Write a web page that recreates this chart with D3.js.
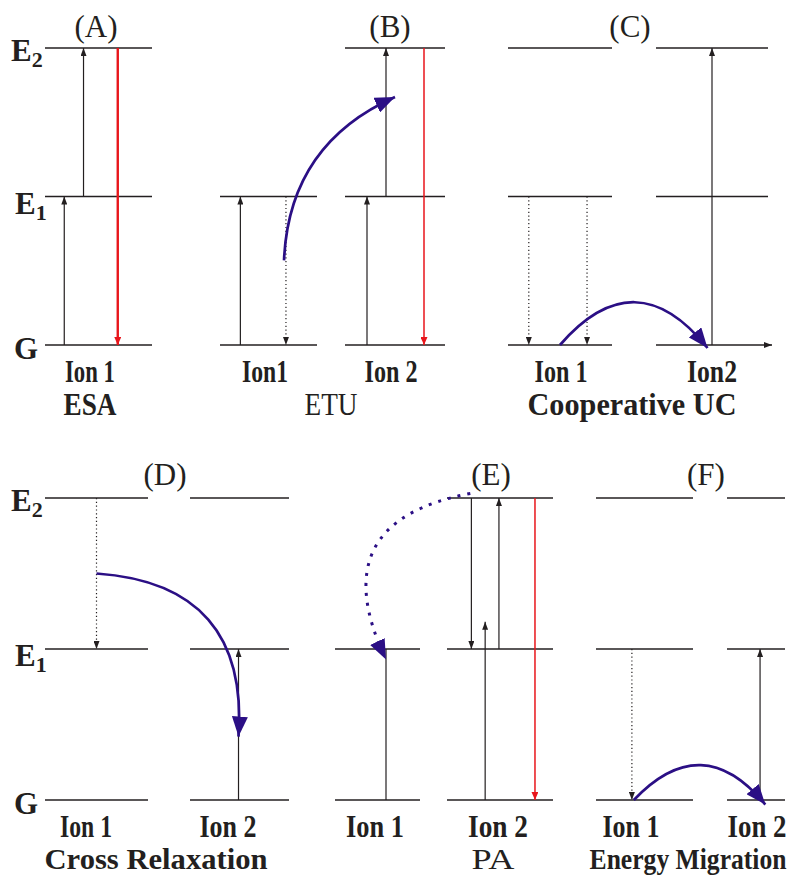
<!DOCTYPE html>
<html>
<head>
<meta charset="utf-8">
<script src="https://cdn.jsdelivr.net/npm/d3@7"></script>
<style>
body { margin: 0; background: #fff; }
text { font-family: "Liberation Serif", "Times New Roman", serif; fill: #231f20; }
</style>
</head>
<body>
<script>
// ---------- data ----------
// panels and the process each one shows
const panelIds = ["A", "B", "C", "D", "E", "F"];
const processNames = ["ESA", "ETU", "Cooperative UC", "Cross Relaxation", "PA", "Energy Migration"];
const processBold = [true, false, true, true, false, true];

// energy levels: 0 = G, 1 = E1, 2 = E2
const levelNames = [["G", ""], ["E", "1"], ["E", "2"]];

// ions of each panel with the levels that are drawn for them
const ions = [
    { panel: "A", name: "Ion 1", levels: [0, 1, 2] },
    { panel: "B", name: "Ion1",  levels: [0, 1] },
    { panel: "B", name: "Ion 2", levels: [0, 1, 2] },
    { panel: "C", name: "Ion 1", levels: [0, 1, 2] },
    { panel: "C", name: "Ion2",  levels: [0, 1, 2] },
    { panel: "D", name: "Ion 1", levels: [0, 1, 2] },
    { panel: "D", name: "Ion 2", levels: [0, 1, 2] },
    { panel: "E", name: "Ion 1", levels: [0, 1] },
    { panel: "E", name: "Ion 2", levels: [0, 1, 2] },
    { panel: "F", name: "Ion 1", levels: [0, 1, 2] },
    { panel: "F", name: "Ion 2", levels: [0, 1, 2] }
];

// vertical transitions inside one ion (ion = index in ions, at = place along the level 0..1)
// kind: solid = absorption / decay, dotted = non radiative, emit = emission, plain = no head
const transitions = [
    { ion: 0, at: 0.18, from: 0, to: 1, kind: "solid" },
    { ion: 0, at: 0.36, from: 1, to: 2, kind: "solid" },
    { ion: 0, at: 0.68, from: 2, to: 0, kind: "emitBold" },
    { ion: 1, at: 0.21, from: 0, to: 1, kind: "solid" },
    { ion: 1, at: 0.68, from: 1, to: 0, kind: "dotted" },
    { ion: 2, at: 0.22, from: 0, to: 1, kind: "solid" },
    { ion: 2, at: 0.41, from: 1, to: 2, kind: "solid" },
    { ion: 2, at: 0.79, from: 2, to: 0, kind: "emit" },
    { ion: 3, at: 0.20, from: 1, to: 0, kind: "dotted" },
    { ion: 3, at: 0.76, from: 1, to: 0, kind: "dotted" },
    { ion: 4, at: 0.50, from: 0, to: 2, kind: "solid" },
    { ion: 5, at: 0.50, from: 2, to: 1, kind: "dotted" },
    { ion: 6, at: 0.49, from: 0, to: 1, kind: "solid" },
    { ion: 7, at: 0.60, from: 0, to: 1, kind: "plain" },
    { ion: 8, at: 0.23, from: 2, to: 1, kind: "solid" },
    { ion: 8, at: 0.49, from: 1, to: 2, kind: "solid" },
    { ion: 8, at: 0.36, from: 0, to: 1.18, kind: "solid" },
    { ion: 8, at: 0.83, from: 2, to: 0, kind: "emit" },
    { ion: 9, at: 0.37, from: 1, to: 0, kind: "dotted" },
    { ion: 10, at: 0.57, from: 0, to: 1, kind: "solid" }
];

// energy transfer between ions (curved blue arrows)
const transfers = [
    { from: { ion: 1, at: 0.66, level: 0.57 }, to: { ion: 2, at: 0.50, level: 1.67 }, bend: 0.31, dotted: false },
    { from: { ion: 3, at: 0.50, level: 0.0 },  to: { ion: 4, at: 0.46, level: -0.02 }, bend: 0.60, dotted: false },
    { from: { ion: 5, at: 0.50, level: 1.5 },  to: { ion: 6, at: 0.49, level: 0.42 }, bend: 0.50, dotted: false },
    { from: { ion: 8, at: 0.22, level: 2.03 }, to: { ion: 7, at: 0.60, level: 0.93 }, bend: -0.65, dotted: true },
    { from: { ion: 9, at: 0.39, level: 0.0 },  to: { ion: 10, at: 0.66, level: -0.03 }, bend: 0.565, dotted: false }
];

// ---------- layout ----------
const panelRow = { A: 0, B: 0, C: 0, D: 1, E: 1, F: 1 };
const rowRange = [[345, 48], [800, 498]];
const ionExtent = [[45, 152], [220, 317], [345, 445], [508, 612], [656, 768],
                   [45, 148], [190, 289], [335, 420], [447, 553], [596, 693], [727, 785]];
const titleX = [96, 390, 630, 165, 491, 706];
const titleY = [37, 485];
const ionLabelX = [90, 265, 391, 561, 712, 86, 228, 375, 498, 631, 757];
const ionLabelW = [50, 46, 53, 53, 50, 52, 57, 58, 60, 57, 59];
const ionLabelY = [382, 837];
const processX = [90, 331, 632, 156, 493, 688];
const processW = [53, 53, 209, 223, 43, 197];
const processY = [415, 869];
const axisIon = 4;   // ion whose ground level is drawn as an arrow

const ink = "#231f20", red = "#e8151b", blue = "#2b0f85";

const yScales = rowRange.map(r => d3.scaleLinear().domain([0, 2]).range(r));
const xScales = ionExtent.map(e => d3.scaleLinear().domain([0, 1]).range(e));
const yOf = i => yScales[panelRow[ions[i].panel]];

const svg = d3.select("body").append("svg")
    .attr("width", 795)
    .attr("height", 882);

// arrow heads
const defs = svg.append("defs");
function marker(id, color, len, wid) {
    defs.append("marker")
        .attr("id", id)
        .attr("markerUnits", "userSpaceOnUse")
        .attr("viewBox", `0 0 ${len} ${wid}`)
        .attr("refX", len).attr("refY", wid / 2)
        .attr("markerWidth", len).attr("markerHeight", wid)
        .attr("orient", "auto")
        .append("path")
        .attr("d", `M0,0 L${len},${wid / 2} L0,${wid} Z`)
        .attr("fill", color);
}
marker("head-black", ink, 8, 6);
marker("head-red", red, 8, 7);
marker("head-blue", blue, 20, 16);

// energy level lines
const levelData = [];
ions.forEach((ion, i) => ion.levels.forEach(l => levelData.push({ ion: i, level: l })));

svg.selectAll("line.level")
    .data(levelData)
    .enter().append("line")
    .attr("class", "level")
    .attr("x1", d => xScales[d.ion](0))
    .attr("x2", d => xScales[d.ion](1) + (d.ion === axisIon && d.level === 0 ? 4 : 0))
    .attr("y1", d => yOf(d.ion)(d.level))
    .attr("y2", d => yOf(d.ion)(d.level))
    .attr("stroke", ink)
    .attr("stroke-width", 1.3)
    .attr("marker-end", d => d.ion === axisIon && d.level === 0 ? "url(#head-black)" : null);

// vertical transitions
svg.selectAll("line.trans")
    .data(transitions)
    .enter().append("line")
    .attr("class", "trans")
    .attr("x1", d => xScales[d.ion](d.at))
    .attr("x2", d => xScales[d.ion](d.at))
    .attr("y1", d => yOf(d.ion)(d.from))
    .attr("y2", d => yOf(d.ion)(d.to))
    .attr("stroke", d => d.kind.startsWith("emit") ? red : ink)
    .attr("stroke-width", d => d.kind === "emitBold" ? 2.4 : d.kind === "emit" ? 1.5 : 1.2)
    .attr("stroke-dasharray", d => d.kind === "dotted" ? "1.2,2.6" : null)
    .attr("marker-end", d => d.kind === "plain" ? null
        : d.kind.startsWith("emit") ? "url(#head-red)" : "url(#head-black)");

// curved transfer arrows
function curve(d) {
    const a = d.from, b = d.to;
    const x0 = xScales[a.ion](a.at), y0 = yOf(a.ion)(a.level);
    const x1 = xScales[b.ion](b.at), y1 = yOf(b.ion)(b.level);
    const dx = x1 - x0, dy = y1 - y0;
    const cx = (x0 + x1) / 2 + d.bend * dy, cy = (y0 + y1) / 2 - d.bend * dx;
    const p = d3.path();
    p.moveTo(x0, y0);
    p.quadraticCurveTo(cx, cy, x1, y1);
    return p.toString();
}

svg.selectAll("path.transfer")
    .data(transfers)
    .enter().append("path")
    .attr("class", "transfer")
    .attr("d", curve)
    .attr("fill", "none")
    .attr("stroke", blue)
    .attr("stroke-width", d => d.dotted ? 3 : 2.7)
    .attr("stroke-dasharray", d => d.dotted ? "3,7" : null)
    .attr("marker-end", "url(#head-blue)");

// panel titles
svg.selectAll("text.title")
    .data(panelIds)
    .enter().append("text")
    .attr("class", "title")
    .attr("x", (d, i) => titleX[i])
    .attr("y", d => titleY[panelRow[d]])
    .attr("text-anchor", "middle")
    .attr("font-size", 31)
    .text(d => "(" + d + ")");

// squeeze a centred text to a given width (the originals are narrow)
function fitWidth(sel, xs, ys, ws) {
    sel.attr("text-anchor", "middle")
       .attr("x", 0).attr("y", 0)
       .attr("transform", function (d, i) {
           const len = this.getComputedTextLength();
           return `translate(${xs(d, i)},${ys(d, i)}) scale(${ws[i] / len},1)`;
       });
}

// ion names
const ionText = svg.selectAll("text.ion")
    .data(ions)
    .enter().append("text")
    .attr("class", "ion")
    .attr("font-size", 31)
    .attr("font-weight", "bold")
    .text(d => d.name);
fitWidth(ionText, (d, i) => ionLabelX[i], d => ionLabelY[panelRow[d.panel]], ionLabelW);

// process names
const procText = svg.selectAll("text.process")
    .data(processNames)
    .enter().append("text")
    .attr("class", "process")
    .attr("font-size", (d, i) => panelRow[panelIds[i]] ? 30 : 32)
    .attr("font-weight", (d, i) => processBold[i] ? "bold" : "normal")
    .text(d => d);
fitWidth(procText, (d, i) => processX[i], (d, i) => processY[panelRow[panelIds[i]]], processW);

// level names on the left of each row
const levelLabelX = [14, 15, 11];
const levelLabelDy = [14, 17, 13];
[0, 1].forEach(row => {
    const lab = svg.selectAll("text.lvl" + row)
        .data(levelNames)
        .enter().append("text")
        .attr("class", "lvl" + row)
        .attr("x", (d, i) => levelLabelX[i])
        .attr("y", (d, i) => yScales[row](i) + levelLabelDy[i])
        .attr("font-size", 31)
        .attr("font-weight", "bold");
    lab.append("tspan").text(d => d[0]);
    lab.append("tspan")
        .attr("font-size", 22)
        .attr("dy", 6)
        .text(d => d[1]);
});
</script>
</body>
</html>
